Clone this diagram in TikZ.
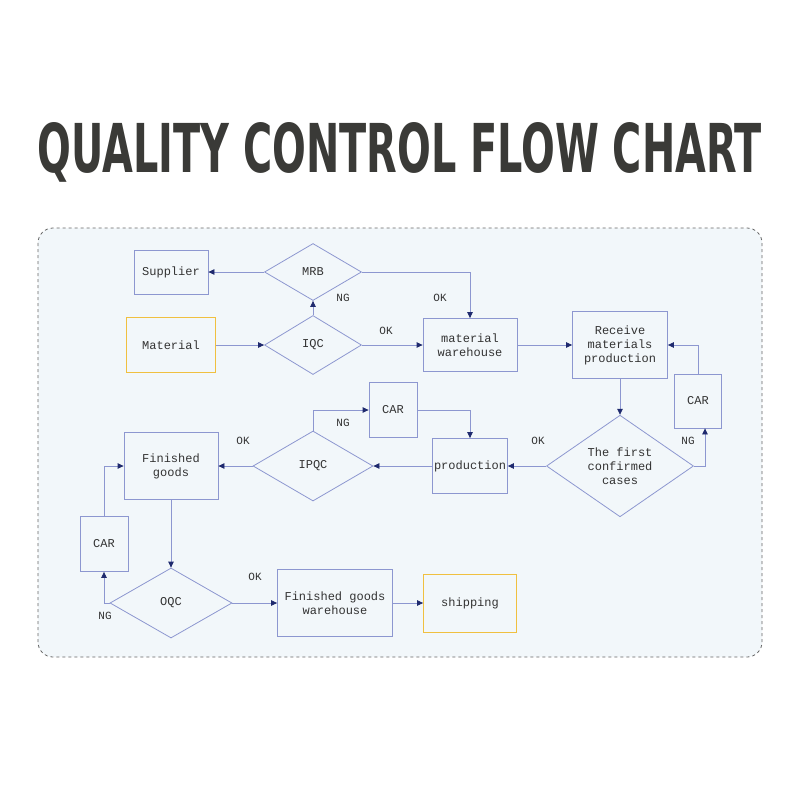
\documentclass[tikz,border=0pt]{standalone}
\usepackage{graphicx}
\usepackage{fontspec}
\setmainfont{Liberation Serif}
\newfontfamily\titlefont{DejaVu Sans Condensed}
\newfontfamily\boxfont{Liberation Mono}
\usetikzlibrary{shapes.geometric,arrows.meta}
\definecolor{ln}{HTML}{8D97D0}
\definecolor{tip}{HTML}{1F2A6E}
\definecolor{tx}{HTML}{333333}
\definecolor{bg}{HTML}{F2F7FA}
\definecolor{yel}{HTML}{F0C040}
\definecolor{ttl}{HTML}{3A3A37}
\begin{document}
\begin{tikzpicture}[x=1pt,y=-1pt,
  box/.style={draw=ln,line width=0.8pt,fill=bg,minimum width=#1,text=tx,font=\boxfont\fontsize{12}{14}\selectfont,align=center,inner sep=1pt},
  dia/.style={draw=ln,line width=0.8pt,fill=bg,text=tx,font=\boxfont\fontsize{12}{14}\selectfont,align=center},
  lab/.style={text=tx,font=\boxfont\fontsize{11}{12}\selectfont},
  ar/.style={draw=ln,line width=0.8pt,-{Triangle[length=6pt,width=5.5pt,fill=tip,color=tip]}}]
\useasboundingbox (0,0) rectangle (800,800);
\fill[white] (0,0) rectangle (800,800);
\node[text=ttl,inner sep=0pt] (title) at (400,152) {\resizebox{724pt}{50pt}{\titlefont\bfseries QUALITY CONTROL FLOW CHART}};
\draw[gray!80!black,dashed,line width=0.8pt,fill=bg,rounded corners=15pt] (38,228) rectangle (762,657);
% nodes
\node[box=74pt,minimum height=44pt] (sup) at (171,272) {Supplier};
\node[dia,diamond,minimum width=97pt,minimum height=57pt,inner sep=0pt] (mrb) at (313,272) {MRB};
\node[box=89pt,minimum height=55pt,draw=yel] (mat) at (171,345) {Material};
\node[dia,diamond,minimum width=97pt,minimum height=59pt,inner sep=0pt] (iqc) at (313,345) {IQC};
\node[box=94pt,minimum height=53pt] (mw) at (470,345) {material\\warehouse};
\node[box=95pt,minimum height=67pt] (rec) at (620,345) {Receive\\materials\\production};
\node[box=47pt,minimum height=54pt] (car1) at (698,401) {CAR};
\node[dia,diamond,minimum width=147pt,minimum height=93pt,inner sep=0pt] (fc) at (620,466) {The first\\confirmed\\cases};
\node[box=75pt,minimum height=55pt] (prod) at (470,466) {production};
\node[box=48pt,minimum height=55pt] (car2) at (393,410) {CAR};
\node[dia,diamond,minimum width=120pt,minimum height=70pt,inner sep=0pt] (ipqc) at (313,466) {IPQC};
\node[box=94pt,minimum height=67pt] (fg) at (171,466) {Finished\\goods};
\node[box=48pt,minimum height=55pt] (car3) at (104,544) {CAR};
\node[dia,diamond,minimum width=122pt,minimum height=70pt,inner sep=0pt] (oqc) at (171,603) {OQC};
\node[box=115pt,minimum height=67pt] (fgw) at (335,603) {Finished goods\\warehouse};
\node[box=93pt,minimum height=58pt,draw=yel] (ship) at (470,603) {shipping};
% edges
\draw[ar] (mrb.west) -- (sup.east);
\draw[ar] (mrb.east) -| (mw.north);
\draw[ar] (iqc.north) -- (mrb.south);
\draw[ar] (mat.east) -- (iqc.west);
\draw[ar] (iqc.east) -- (mw.west);
\draw[ar] (mw.east) -- (rec.west);
\draw[ar] (rec.south) -- (fc.north);
\coordinate (c1) at (705,466);
\draw[ar] (fc.east) -- (c1) -- (car1.south -| c1);
\draw[ar] (car1.north) |- (rec.east);
\draw[ar] (fc.west) -- (prod.east);
\draw[ar] (prod.west) -- (ipqc.east);
\draw[ar] (ipqc.north) |- (car2.west);
\draw[ar] (car2.east) -| (prod.north);
\draw[ar] (ipqc.west) -- (fg.east);
\draw[ar] (fg.south) -- (oqc.north);
\draw[ar] (oqc.west) -| (car3.south);
\draw[ar] (car3.north) |- (fg.west);
\draw[ar] (oqc.east) -- (fgw.west);
\draw[ar] (fgw.east) -- (ship.west);
% labels
\node[lab] (l1) at (440,298) {OK};
\node[lab] (l2) at (343,298) {NG};
\node[lab] (l3) at (386,331) {OK};
\node[lab] (l4) at (688,441) {NG};
\node[lab] (l5) at (538,441) {OK};
\node[lab] (l6) at (343,423) {NG};
\node[lab] (l7) at (243,441) {OK};
\node[lab] (l8) at (105,616) {NG};
\node[lab] (l9) at (255,577) {OK};
\end{tikzpicture}
\end{document}
